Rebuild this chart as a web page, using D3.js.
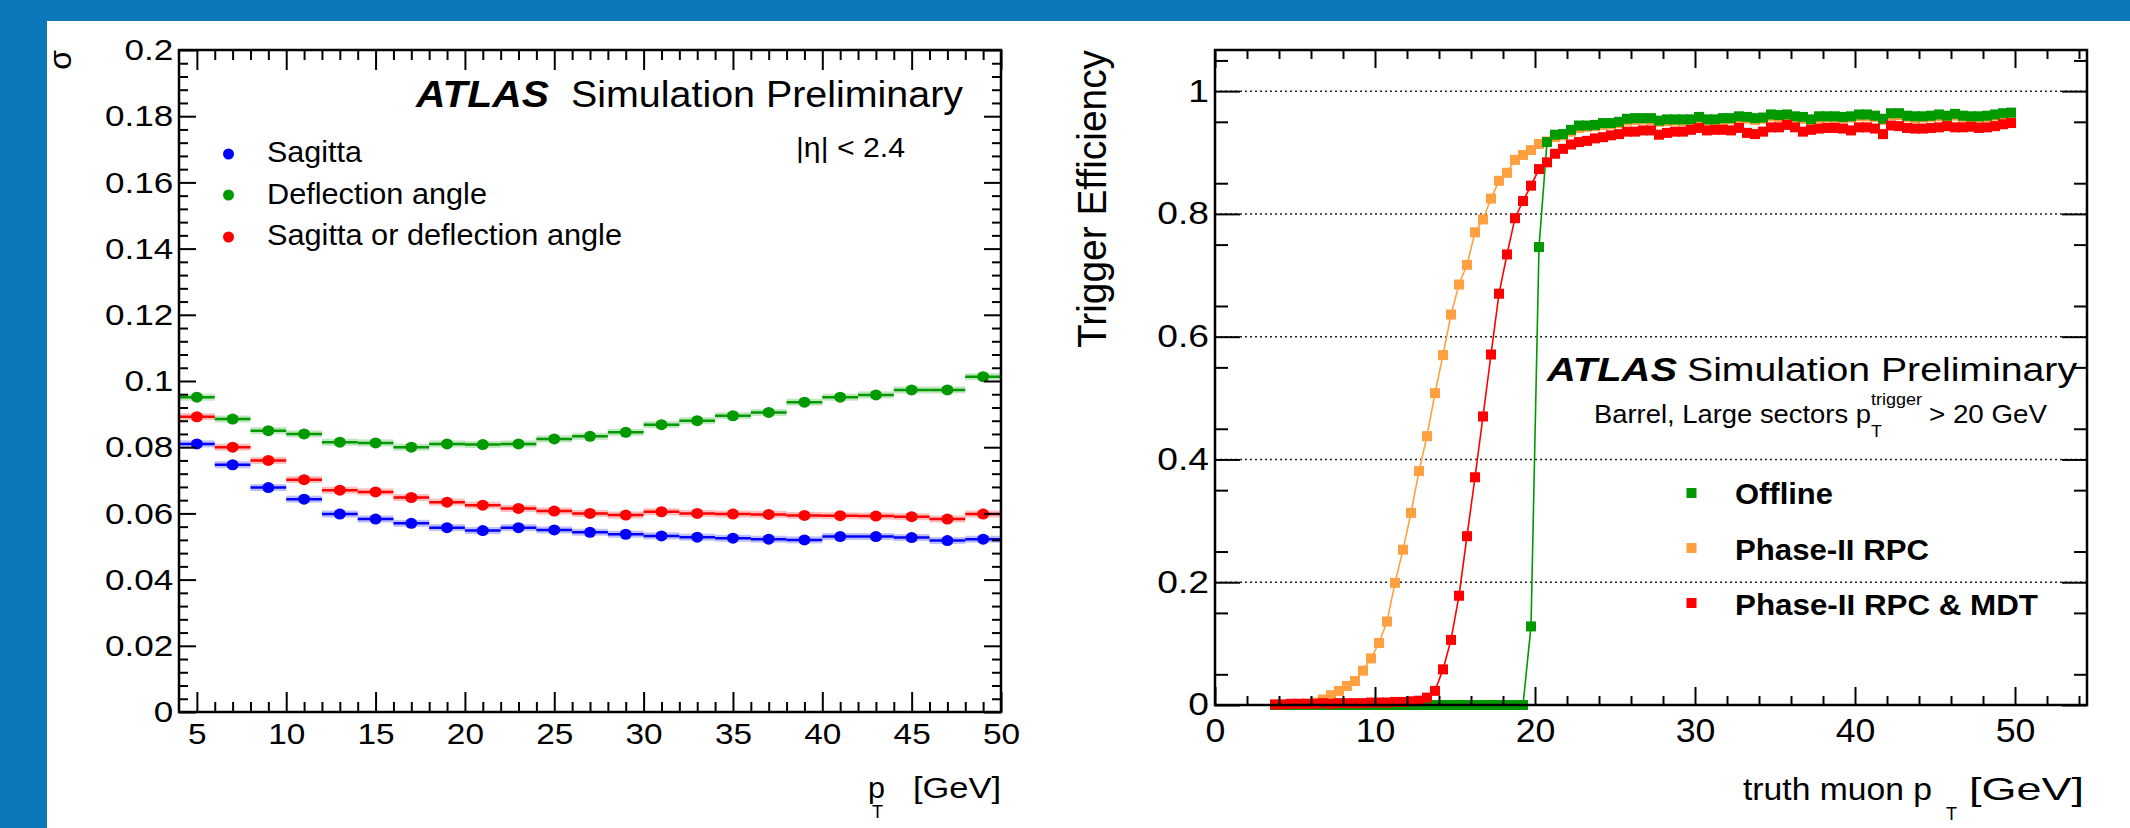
<!DOCTYPE html>
<html>
<head>
<meta charset="utf-8">
<script src="https://cdn.jsdelivr.net/npm/d3@7"></script>
<style>
  body { margin: 0; background: #0b78bb; }
  svg { display: block; }
  text { font-family: "Liberation Sans", Arial, Helvetica, sans-serif; fill: #000; }
</style>
</head>
<body>
<div id="svg-container"></div>
<script>
// Left panel: resolution vs pT (2 GeV bins).
const resBins = [5, 7, 9, 11, 13, 15, 17, 19, 21, 23, 25, 27, 29, 31, 33, 35, 37, 39, 41, 43, 45, 47, 49];
const sagitta = [0.0810, 0.0747, 0.0678, 0.0643, 0.0598, 0.0583, 0.0570, 0.0557, 0.0548, 0.0557, 0.0550, 0.0543,
  0.0537, 0.0532, 0.0528, 0.0525, 0.0522, 0.0520, 0.0530, 0.0530, 0.0527, 0.0518, 0.0522];
const deflection = [0.0951, 0.0885, 0.0850, 0.0840, 0.0815, 0.0813, 0.0800, 0.0810, 0.0808, 0.0810, 0.0825, 0.0833,
  0.0845, 0.0868, 0.0880, 0.0895, 0.0905, 0.0936, 0.0951, 0.0958, 0.0973, 0.0973, 0.1013];
const sagOrDefl = [0.0892, 0.0800, 0.0760, 0.0702, 0.0670, 0.0665, 0.0648, 0.0634, 0.0625, 0.0615, 0.0607, 0.0600,
  0.0595, 0.0605, 0.0600, 0.0598, 0.0597, 0.0594, 0.0593, 0.0592, 0.0590, 0.0583, 0.0598];
const resXTicks = [5, 10, 15, 20, 25, 30, 35, 40, 45, 50];
const resYTicks = [0, 0.02, 0.04, 0.06, 0.08, 0.1, 0.12, 0.14, 0.16, 0.18, 0.2];
const resYLabels = ['0', '0.02', '0.04', '0.06', '0.08', '0.1', '0.12', '0.14', '0.16', '0.18', '0.2'];
const resLegend = ['Sagitta', 'Deflection angle', 'Sagitta or deflection angle'];

// Right panel: trigger efficiency vs truth muon pT (0.5 GeV bins).
const effBins = [3.75, 4.25, 4.75, 5.25, 5.75, 6.25, 6.75, 7.25, 7.75, 8.25, 8.75, 9.25, 9.75, 10.25, 10.75,
  11.25, 11.75, 12.25, 12.75, 13.25, 13.75, 14.25, 14.75, 15.25, 15.75, 16.25, 16.75, 17.25, 17.75, 18.25, 18.75,
  19.25, 19.75, 20.25, 20.75, 21.25, 21.75, 22.25, 22.75, 23.25, 23.75, 24.25, 24.75, 25.25, 25.75, 26.25, 26.75,
  27.25, 27.75, 28.25, 28.75, 29.25, 29.75, 30.25, 30.75, 31.25, 31.75, 32.25, 32.75, 33.25, 33.75, 34.25, 34.75,
  35.25, 35.75, 36.25, 36.75, 37.25, 37.75, 38.25, 38.75, 39.25, 39.75, 40.25, 40.75, 41.25, 41.75, 42.25, 42.75,
  43.25, 43.75, 44.25, 44.75, 45.25, 45.75, 46.25, 46.75, 47.25, 47.75, 48.25, 48.75, 49.25, 49.75];
const effOffline = [0, 0, 0, 0, 0, 0, 0, 0, 0, 0, 0, 0, 0, 0, 0, 0, 0, 0, 0, 0, 0, 0, 0, 0, 0, 0, 0, 0, 0, 0, 0, 0,
  0.128, 0.746, 0.917,
  0.929, 0.930, 0.937, 0.944, 0.944, 0.945, 0.948, 0.948, 0.950, 0.955,
  0.956, 0.956, 0.956, 0.952, 0.954, 0.954, 0.954, 0.954, 0.958, 0.954,
  0.954, 0.956, 0.956, 0.959, 0.958, 0.956, 0.957, 0.962, 0.961, 0.962,
  0.959, 0.958, 0.954, 0.959, 0.959, 0.959, 0.958, 0.959, 0.962, 0.962,
  0.960, 0.955, 0.964, 0.964, 0.960, 0.959, 0.959, 0.960, 0.962, 0.960,
  0.963, 0.960, 0.959, 0.959, 0.960, 0.962, 0.964, 0.965];
const effRpc = [0.000, 0.000, 0.001, 0.001, 0.002, 0.004, 0.009, 0.016, 0.023, 0.031,
  0.039, 0.056, 0.076, 0.101, 0.136, 0.199, 0.253, 0.313, 0.381, 0.438,
  0.508, 0.570, 0.636, 0.685, 0.717, 0.770, 0.791, 0.825, 0.854, 0.867,
  0.888, 0.896, 0.904, 0.914, 0.918,
  0.925, 0.928, 0.934, 0.940, 0.942, 0.943, 0.945, 0.946, 0.948, 0.952,
  0.953, 0.954, 0.953, 0.950, 0.951, 0.952, 0.951, 0.952, 0.955, 0.952,
  0.951, 0.953, 0.954, 0.956, 0.955, 0.953, 0.955, 0.959, 0.958, 0.959,
  0.957, 0.955, 0.952, 0.956, 0.957, 0.956, 0.956, 0.957, 0.959, 0.959,
  0.958, 0.953, 0.961, 0.961, 0.958, 0.956, 0.957, 0.958, 0.959, 0.958,
  0.960, 0.958, 0.957, 0.956, 0.958, 0.960, 0.961, 0.962];
const effRpcMdt = [0.001, 0.001, 0.002, 0.002, 0.002, 0.002, 0.003, 0.002, 0.003, 0.003,
  0.003, 0.003, 0.004, 0.004, 0.004, 0.005, 0.005, 0.006, 0.007,
  0.012, 0.023, 0.058, 0.106, 0.178, 0.275, 0.371, 0.470, 0.571, 0.670,
  0.734, 0.793, 0.821, 0.846, 0.873, 0.884, 0.898, 0.906, 0.913,
  0.917, 0.919, 0.923, 0.925, 0.928, 0.930, 0.934, 0.934, 0.936, 0.936,
  0.929, 0.932, 0.934, 0.934, 0.937, 0.940, 0.936, 0.937, 0.937, 0.936,
  0.940, 0.932, 0.930, 0.934, 0.941, 0.941, 0.945, 0.941, 0.934, 0.937,
  0.939, 0.940, 0.940, 0.939, 0.936, 0.941, 0.941, 0.939, 0.930, 0.944,
  0.943, 0.940, 0.939, 0.939, 0.940, 0.941, 0.943, 0.941, 0.941, 0.942,
  0.940, 0.941, 0.943, 0.946, 0.948];
const effXTicks = [0, 10, 20, 30, 40, 50];
const effYTicks = [0, 0.2, 0.4, 0.6, 0.8, 1];
const effYLabels = ['0', '0.2', '0.4', '0.6', '0.8', '1'];
const effLegend = ['Offline', 'Phase-II RPC', 'Phase-II RPC & MDT'];

const width = 2130;
const height = 828;

const svg = d3.select('div#svg-container')
  .append('svg')
  .attr('width', width)
  .attr('height', height);

// Slide background.
svg.append('rect').attr('width', width).attr('height', height).attr('fill', '#0b78bb');
svg.append('rect').attr('x', 47).attr('y', 21).attr('width', width - 47).attr('height', height - 21).attr('fill', '#fff');

// Text helper; the slide image is a bit stretched, so widths are fixed.
function label(g, x, y, str, size, len, opts = {}) {
  const t = g.append('text')
    .attr('x', x)
    .attr('y', y)
    .style('font-size', size + 'px')
    .text(str);
  if (opts.bold) t.style('font-weight', 'bold');
  if (opts.italic) t.style('font-style', 'italic');
  if (opts.anchor) t.attr('text-anchor', opts.anchor);
  if (opts.transform) t.attr('transform', opts.transform);
  if (len) t.attr('textLength', len).attr('lengthAdjust', 'spacingAndGlyphs');
  return t;
}

// ROOT style frame: ticks inside on all four sides.
function frame(x, y, o) {
  const [x0, x1] = x.range();
  const [y0, y1] = y.range();
  const add = (axis, tx, ty) => svg.append('g')
    .attr('transform', `translate(${tx},${ty})`)
    .call(axis)
    .call(g => g.select('.domain').remove())
    .call(g => g.selectAll('line').attr('stroke', '#000').attr('stroke-width', 2));

  const bottom = add(d3.axisBottom(x).tickValues(o.xTicks).tickSize(-o.xMajor).tickPadding(o.xPad), 0, y0);
  bottom.selectAll('text')
    .style('font-size', o.xFont + 'px')
    .attr('fill', '#000')
    .attr('transform', `scale(${o.xStretch},1)`);
  add(d3.axisBottom(x).tickValues(o.xMinor).tickSize(-o.xMinorLen).tickFormat(''), 0, y0);
  add(d3.axisTop(x).tickValues(o.xTicks).tickSize(-o.xMajor).tickFormat(''), 0, y1);
  add(d3.axisTop(x).tickValues(o.xMinor).tickSize(-o.xMinorLen).tickFormat(''), 0, y1);

  const left = add(d3.axisLeft(y).tickValues(o.yTicks).tickSize(-o.yMajor).tickPadding(o.yPad)
    .tickFormat((d, i) => o.yLabels[i]), x0, 0);
  left.selectAll('text')
    .style('font-size', o.yFont + 'px')
    .attr('fill', '#000')
    .attr('transform', `scale(${o.yStretch},1)`);
  add(d3.axisLeft(y).tickValues(o.yMinor).tickSize(-o.yMinorLen).tickFormat(''), x0, 0);
  add(d3.axisRight(y).tickValues(o.yTicks).tickSize(-o.yMajor).tickFormat(''), x1, 0);
  add(d3.axisRight(y).tickValues(o.yMinor).tickSize(-o.yMinorLen).tickFormat(''), x1, 0);

  svg.append('rect')
    .attr('x', x0)
    .attr('y', y1)
    .attr('width', x1 - x0)
    .attr('height', y0 - y1)
    .attr('fill', 'none')
    .attr('stroke', '#000')
    .attr('stroke-width', 2.5);
}

// ---------- Left panel ----------
const xRes = d3.scaleLinear().domain([4, 50]).range([179, 1001]);
const yRes = d3.scaleLinear().domain([0, 0.2]).range([712, 50]);

const resSeries = [
  {name: resLegend[2], values: sagOrDefl, color: '#ff0000'},
  {name: resLegend[1], values: deflection, color: '#009a00'},
  {name: resLegend[0], values: sagitta, color: '#0000ff'},
];

resSeries.forEach((s) => {
  const g = svg.append('g');
  const pts = resBins.map((b, i) => ({x: b, y: s.values[i]}));
  g.selectAll('rect.band')
    .data(pts)
    .enter()
    .append('rect')
    .attr('x', (d) => xRes(d.x - 1))
    .attr('y', (d) => yRes(d.y) - 3.5)
    .attr('width', (d) => xRes(d.x + 1) - xRes(d.x - 1))
    .attr('height', 7)
    .attr('fill', s.color)
    .attr('opacity', 0.25);
  g.selectAll('line')
    .data(pts)
    .enter()
    .append('line')
    .attr('x1', (d) => xRes(d.x - 1))
    .attr('x2', (d) => xRes(d.x + 1))
    .attr('y1', (d) => yRes(d.y))
    .attr('y2', (d) => yRes(d.y))
    .attr('stroke', s.color)
    .attr('stroke-width', 2.5);
  g.selectAll('ellipse')
    .data(pts)
    .enter()
    .append('ellipse')
    .attr('cx', (d) => xRes(d.x))
    .attr('cy', (d) => yRes(d.y))
    .attr('rx', 6)
    .attr('ry', 5.5)
    .attr('fill', s.color);
});

frame(xRes, yRes, {
  xTicks: resXTicks,
  xMinor: d3.range(5, 50, 1).filter((v) => v % 5 !== 0),
  xMajor: 20, xMinorLen: 10, xPad: 11, xFont: 29, xStretch: 1.15,
  yTicks: resYTicks,
  yLabels: resYLabels,
  yMinor: d3.range(1, 50).filter((v) => v % 5 !== 0).map((v) => v * 0.004),
  yMajor: 17, yMinorLen: 9, yPad: 5, yFont: 30, yStretch: 1.17,
});

const resText = svg.append('g');
label(resText, 71, 50, 'σ', 32, null, {anchor: 'end', transform: 'rotate(-90 71 50)'});
label(resText, 416, 107, 'ATLAS', 36, 133, {bold: true, italic: true});
label(resText, 571, 107, 'Simulation Preliminary', 36, 392);
label(resText, 796, 157, '|η| < 2.4', 27, 109);

const resLegendRows = [
  {name: resLegend[0], color: '#0000ff', y: 154, base: 162, len: 95},
  {name: resLegend[1], color: '#009a00', y: 195, base: 204, len: 220},
  {name: resLegend[2], color: '#ff0000', y: 237, base: 245, len: 355},
];
resLegendRows.forEach((r) => {
  resText.append('ellipse').attr('cx', 228.5).attr('cy', r.y).attr('rx', 5.5).attr('ry', 5.5).attr('fill', r.color);
  label(resText, 267, r.base, r.name, 29, r.len);
});

label(resText, 868, 798, 'p', 30, 17);
label(resText, 872, 818, 'T', 19, 11);
label(resText, 913, 798, '[GeV]', 30, 88);

// ---------- Right panel ----------
const xEff = d3.scaleLinear().domain([0, 54.5]).range([1215, 2087]);
const yEff = d3.scaleLinear().domain([0, 1.067]).range([705, 50]);

// Dotted grid.
svg.append('g')
  .selectAll('line')
  .data(effYTicks.filter((v) => v > 0))
  .enter()
  .append('line')
  .attr('x1', xEff(0))
  .attr('x2', xEff(54.5))
  .attr('y1', (d) => yEff(d))
  .attr('y2', (d) => yEff(d))
  .attr('stroke', '#222')
  .attr('stroke-width', 1.5)
  .attr('stroke-dasharray', '2,3');

const effSeries = [
  {name: effLegend[1], values: effRpc, color: '#ffa040'},
  {name: effLegend[0], values: effOffline, color: '#009a00'},
  {name: effLegend[2], values: effRpcMdt, color: '#ff0000'},
];

const effLine = d3.line()
  .x((d) => xEff(d.x))
  .y((d) => yEff(d.y));

effSeries.forEach((s) => {
  const pts = effBins.map((b, i) => ({x: b, y: s.values[i]}));
  const g = svg.append('g');
  g.append('path')
    .attr('d', effLine(pts))
    .attr('fill', 'none')
    .attr('stroke', s.color)
    .attr('stroke-width', 1.6);
  g.selectAll('rect')
    .data(pts)
    .enter()
    .append('rect')
    .attr('x', (d) => xEff(d.x) - 5)
    .attr('y', (d) => yEff(d.y) - 5)
    .attr('width', 10)
    .attr('height', 10)
    .attr('fill', s.color);
});

frame(xEff, yEff, {
  xTicks: effXTicks,
  xMinor: d3.range(2, 55, 2).filter((v) => v % 10 !== 0),
  xMajor: 18, xMinorLen: 9, xPad: 13, xFont: 34, xStretch: 1.05,
  yTicks: effYTicks,
  yLabels: effYLabels,
  yMinor: [1, 3, 5, 7, 9, 11, 13, 15, 17, 19, 21].map((v) => v * 0.05).filter((v) => v < 1.067),
  yMajor: 25, yMinorLen: 13, yPad: 5, yFont: 31, yStretch: 1.2,
});

const effText = svg.append('g');
label(effText, 1106, 50, 'Trigger Efficiency', 40, 298, {anchor: 'end', transform: 'rotate(-90 1106 50)'});
label(effText, 1547, 381, 'ATLAS', 34, 130, {bold: true, italic: true});
label(effText, 1687, 381, 'Simulation Preliminary', 34, 390);
label(effText, 1594, 423, 'Barrel, Large sectors p', 26, 277);
label(effText, 1871, 437, 'T', 16, 11);
label(effText, 1871, 405, 'trigger', 17, 51);
label(effText, 1929, 423, '> 20 GeV', 26, 118);

const effLegendRows = [
  {name: effLegend[0], color: '#009a00', y: 493, base: 504, len: 98},
  {name: effLegend[1], color: '#ffa040', y: 548, base: 560, len: 194},
  {name: effLegend[2], color: '#ff0000', y: 603, base: 615, len: 303},
];
effLegendRows.forEach((r) => {
  effText.append('rect').attr('x', 1686.5).attr('y', r.y - 5).attr('width', 10).attr('height', 10).attr('fill', r.color);
  label(effText, 1735, r.base, r.name, 29, r.len, {bold: true});
});

label(effText, 1743, 800, 'truth muon p', 32, 189);
label(effText, 1946, 820, 'T', 19, 11);
label(effText, 1969, 800, '[GeV]', 32, 115);
</script>
</body>
</html>
